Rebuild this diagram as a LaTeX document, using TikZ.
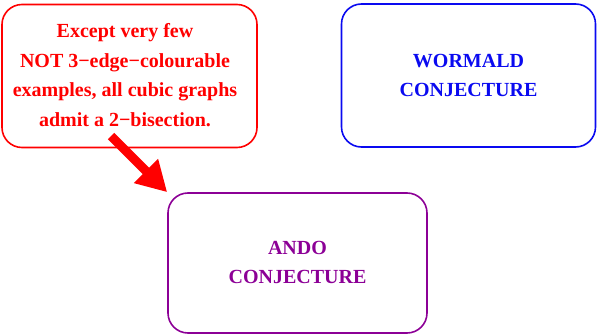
\documentclass[tikz,border=0pt]{standalone}
\usepackage{fontspec}
\setmainfont{Liberation Serif}
\usetikzlibrary{arrows.meta}
\definecolor{conjblue}{RGB}{10,10,240}
\definecolor{conjpurple}{RGB}{140,0,150}
\begin{document}
\begin{tikzpicture}[x=1pt,y=1pt,
  card/.style={draw, line width=1.6pt, rounded corners=20pt, align=center,
    font=\fontsize{20}{29.5}\selectfont\bfseries, inner sep=0pt},
  fatarrow/.style={draw=red, line width=9pt, -{Triangle[length=30pt,width=32pt]}}]
  \useasboundingbox (0,0) rectangle (597,335);
  \node[card, draw=red, text=red, minimum width=255pt, minimum height=143pt]
    (claim) at (129.5,259) {\begin{tabular}{@{}c@{}}Except very few\\NOT 3−edge−colourable\\examples, all cubic graphs\\admit a 2−bisection.\end{tabular}\hspace*{9pt}};
  \node[card, draw=conjblue, text=conjblue, minimum width=254pt, minimum height=143pt]
    (wormald) at (468.5,259.5) {WORMALD\\CONJECTURE};
  \node[card, draw=conjpurple, text=conjpurple, minimum width=259pt, minimum height=140pt]
    (ando) at (297.5,72) {\raisebox{3pt}{\begin{tabular}{@{}c@{}}ANDO\\CONJECTURE\end{tabular}}};
  \coordinate (tail) at (111,199);
  \draw[fatarrow] (tail) -- (ando.north west);
\end{tikzpicture}
\end{document}
